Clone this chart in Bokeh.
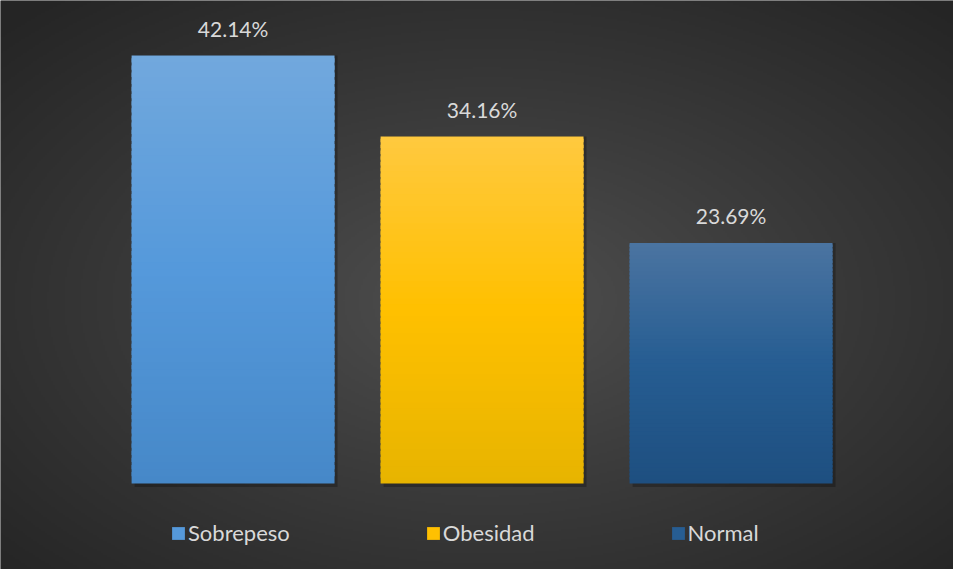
import numpy as np
from bokeh.plotting import figure
from bokeh.models import ColumnDataSource, Legend, LegendItem, Range1d
from bokeh.embed import file_html
from bokeh.resources import INLINE
from bokeh.core.properties import value

# ---- data ----
categories = ["Sobrepeso", "Obesidad", "Normal"]
percentages = [42.14, 34.16, 23.69]
labels = ["42.14%", "34.16%", "23.69%"]

# ---- style ----
top_colors = ["#71a8dd", "#ffc93f", "#4b74a1"]
mid_colors = ["#5599db", "#ffc000", "#265d92"]
bottom_colors = ["#4688c8", "#e7b400", "#1e4f80"]
FONT = "Lato"
TXT = "#d9d9d9"

W, H = 953, 569
x_start, x_end = -0.934, -0.934 + W / 249.0
y_start, y_end = -8.467, -8.467 + H / 10.157


def hex2rgb(h):
    h = h.lstrip("#")
    return np.array([int(h[i:i + 2], 16) for i in (0, 2, 4)], dtype=float)


def rgb2hex(c):
    c = np.clip(np.round(c), 0, 255).astype(int)
    return "#%02x%02x%02x" % tuple(c)


p = figure(width=W, height=H, output_backend="svg", toolbar_location=None,
           x_axis_location=None, y_axis_location=None, min_border=0,
           x_range=Range1d(x_start, x_end), y_range=Range1d(y_start, y_end),
           outline_line_color=None, background_fill_color="#3a3a3a",
           border_fill_color="#3a3a3a")
p.grid.visible = False

# radial background
ih, iw = 285, 477
yy, xx = np.mgrid[0:ih, 0:iw]
cx, cy = iw * 0.51, ih * 0.47  # cy measured from bottom
d = np.sqrt(((xx - cx) / (iw / 2)) ** 2 + ((yy - cy) / (ih / 2)) ** 2) / np.sqrt(2)
d = np.clip(d, 0, 1) ** 0.9
c_in, c_out = 81.0, 37.0
g = (c_in + (c_out - c_in) * d).astype(np.uint8)
rgba = np.zeros((ih, iw, 4), dtype=np.uint8)
rgba[..., 0] = g
rgba[..., 1] = g
rgba[..., 2] = g
rgba[..., 3] = 255
img = rgba.view(dtype=np.uint32).reshape((ih, iw))
p.image_rgba(image=[img], x=x_start, y=y_start, dw=x_end - x_start, dh=y_end - y_start)

# gradient bars made of thin slices
N = 60
xs, bots, tops, cols = [], [], [], []
mid_index = []
for i, v in enumerate(percentages):
    ct, cm, cb = hex2rgb(top_colors[i]), hex2rgb(mid_colors[i]), hex2rgb(bottom_colors[i])
    for k in range(N):
        t = (k + 0.5) / N
        if t < 0.5:
            c = cb + (cm - cb) * (t / 0.5)
        else:
            c = cm + (ct - cm) * ((t - 0.5) / 0.5)
        if k == N // 2:
            mid_index.append(len(xs))
        xs.append(i)
        bots.append(v * k / N)
        tops.append(v * min(k + 1.6, N) / N)
        cols.append(rgb2hex(c))

# soft shadow
p.vbar(x=[i + 0.012 for i in range(len(percentages))], top=percentages,
       bottom=[-0.35] * len(percentages), width=0.815, fill_color="#000000",
       fill_alpha=0.25, line_color=None)

src = ColumnDataSource(dict(x=xs, bottom=bots, top=tops, color=cols))
r = p.vbar(x="x", bottom="bottom", top="top", width=0.815, fill_color="color",
           line_color=None, source=src)

# value labels
lsrc = ColumnDataSource(dict(x=list(range(len(percentages))), y=percentages, text=labels))
p.text(x="x", y="y", text="text", source=lsrc, text_align="center",
       text_baseline="alphabetic", y_offset=-27, text_font=value(FONT),
       text_font_size="21px", text_color=TXT)

legend = Legend(items=[LegendItem(label=categories[i], renderers=[r], index=mid_index[i])
                       for i in range(len(categories))],
                orientation="horizontal", location=(170, 23), spacing=135,
                padding=0, margin=0, glyph_width=16, glyph_height=16,
                label_standoff=2, label_text_font=FONT, label_text_font_size="22px",
                label_text_color=TXT, background_fill_alpha=0, border_line_color=None)
p.add_layout(legend)

open("out.html", "w").write(file_html(p, INLINE))
